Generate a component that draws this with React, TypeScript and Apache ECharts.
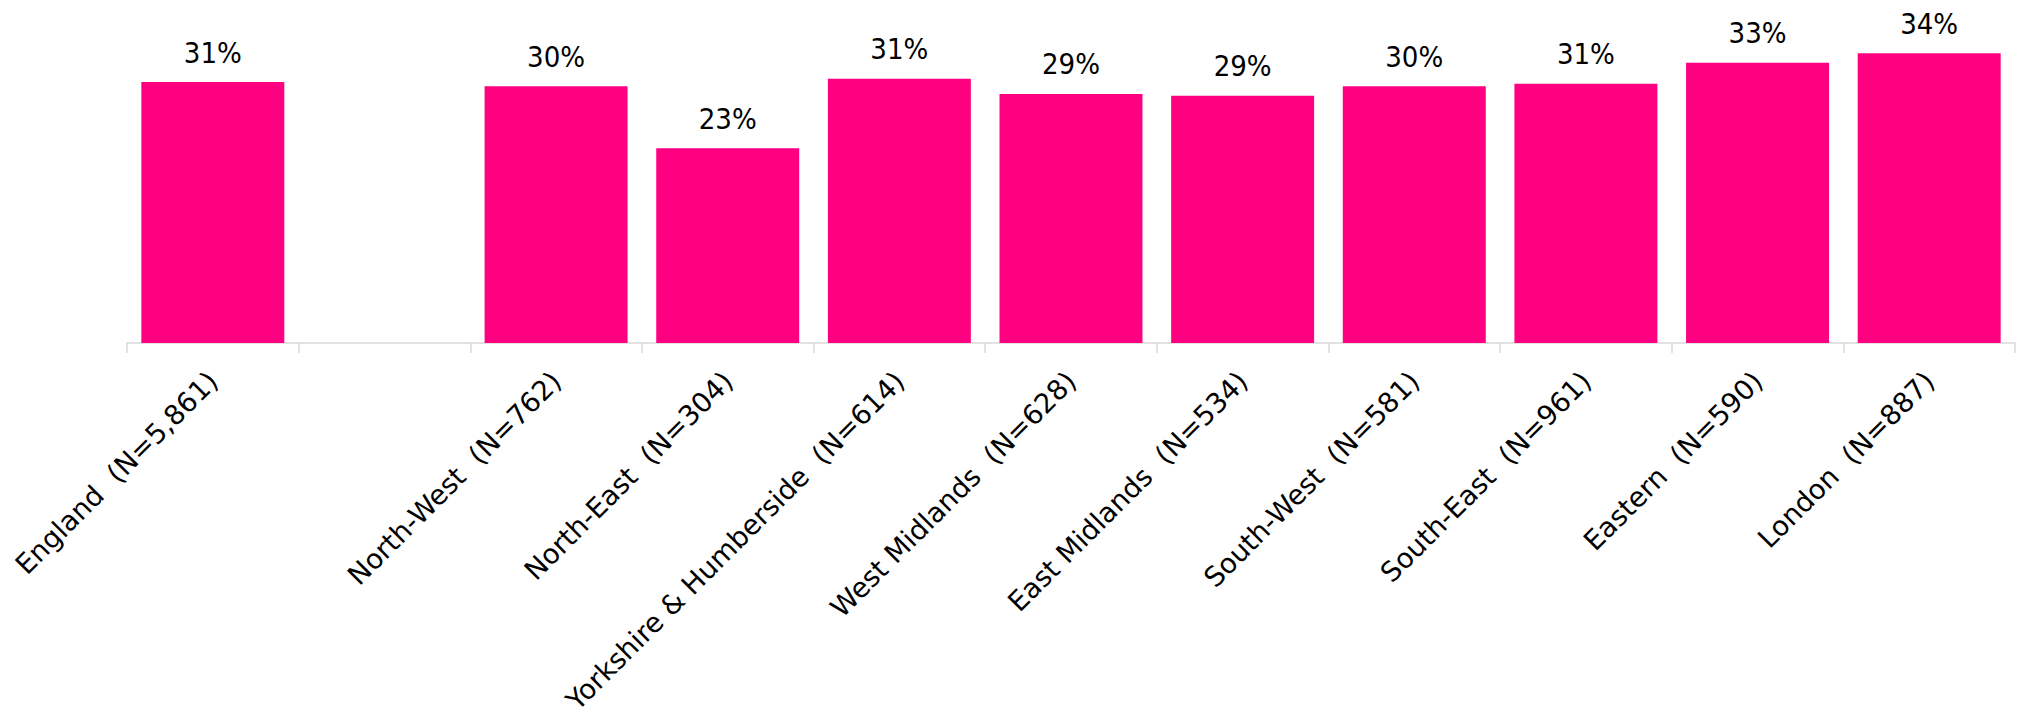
import React, { useEffect, useRef } from "react";
import * as echarts from "echarts";

const regions = [
  "England",
  "",
  "North-West",
  "North-East",
  "Yorkshire & Humberside",
  "West Midlands",
  "East Midlands",
  "South-West",
  "South-East",
  "Eastern",
  "London",
];
const sampleSizes = ["5,861", "", "762", "304", "614", "628", "534", "581", "961", "590", "887"];
const values: (number | null)[] = [30.8, null, 30.3, 23.0, 31.2, 29.4, 29.2, 30.3, 30.6, 33.1, 34.2];

const categories = regions.map((r, i) => (r ? `${r}  (N=${sampleSizes[i]})` : ""));

export default function App() {
  const ref = useRef<HTMLDivElement>(null);
  useEffect(() => {
    if (!ref.current) return;
    const chart = echarts.init(ref.current, null, { renderer: "svg" });
    chart.setOption({
      animation: false,
      backgroundColor: "#ffffff",
      grid: {
        left: 127,
        right: 5,
        top: 4.2,
        bottom: 374,
        containLabel: false,
        outerBoundsMode: "none",
      },
      xAxis: {
        type: "category",
        data: categories,
        axisLine: { show: true, lineStyle: { color: "#D9D9D9", width: 1.5 } },
        axisTick: { show: true, length: 10, alignWithLabel: false, lineStyle: { color: "#D9D9D9", width: 1.5 } },
        axisLabel: {
          interval: 0,
          rotate: 45,
          margin: 33,
          fontSize: 27.5,
          color: "#000000",
          fontFamily: '"DejaVu Sans", sans-serif',
        },
        splitLine: { show: false },
      },
      yAxis: {
        type: "value",
        min: 0,
        max: 40,
        show: false,
        splitLine: { show: false },
      },
      series: [
        {
          type: "bar",
          data: values,
          barCategoryGap: "16.7%",
          itemStyle: { color: "#FF0080" },
          label: {
            show: true,
            position: "top",
            distance: 15,
            fontSize: 29,
            color: "#000000",
            fontFamily: '"DejaVu Sans Condensed", "Liberation Sans", sans-serif',
            formatter: (p: any) => (p.value == null ? "" : `${Math.round(p.value)}%`),
          },
        },
      ],
    });
    return () => chart.dispose();
  }, []);
  return (
    <div
      ref={ref}
      style={{
        position: "fixed",
        left: 0,
        top: 0,
        width: 2020,
        height: 717,
        overflow: "hidden",
        background: "#fff",
      }}
    />
  );
}
